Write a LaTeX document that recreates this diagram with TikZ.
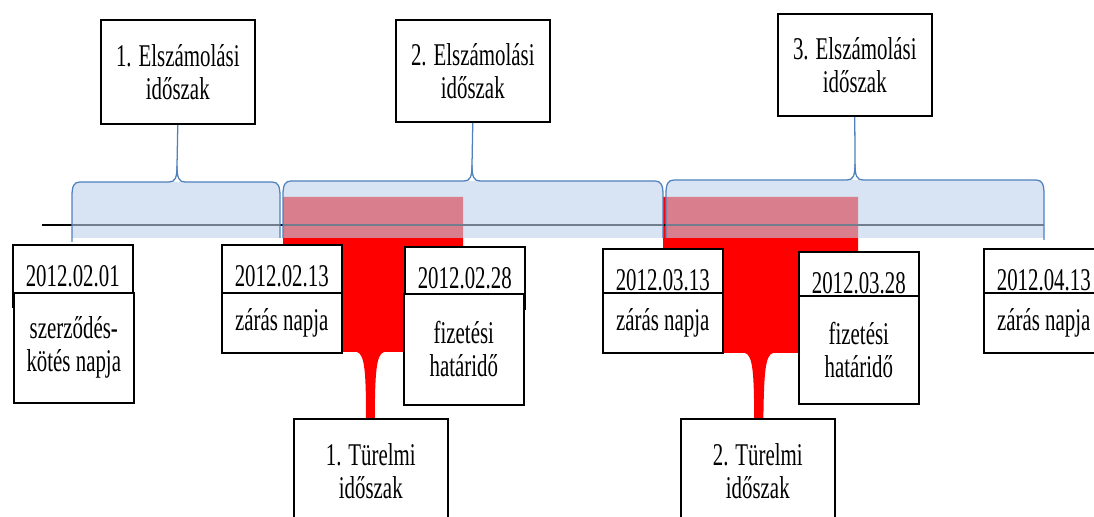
\documentclass[tikz,border=0pt]{standalone}
\usepackage{fontspec}
\setmainfont{Liberation Serif}[FakeStretch=0.66]
\usetikzlibrary{positioning}
\pgfdeclarelayer{background}
\pgfsetlayers{background,main}
\definecolor{bandblue}{RGB}{190,210,235}
\definecolor{braceblue}{RGB}{79,129,189}

\begin{document}
\begin{tikzpicture}[x=0.025cm, y=-0.025cm,
        every node/.style={align=center, font=\fontsize{22.5}{23.5}\selectfont},
        box/.style={draw, line width=1.1pt, fill=white, anchor=north west, inner sep=0pt},
        period/.style={box, minimum width=3.85cm, minimum height=2.6cm},
        datebox/.style={box, minimum width=3cm, minimum height=1.55cm},
        notebox/.style={box, minimum width=3cm, minimum height=#1},
        band/.style={fill=bandblue, fill opacity=0.6},
        bracket/.style={draw=braceblue, line width=0.9pt},
        grace/.style={fill=red},
    ]
    \useasboundingbox (0,0) rectangle (1094,517);
    \node[period] (elsz1) at (100,19) {1. Elszámolási\\időszak};
    \node[period, minimum height=2.55cm] (elsz2) at (395,19) {2. Elszámolási\\időszak};
    \node[period, minimum height=2.55cm] (elsz3) at (777,13) {3. Elszámolási\\időszak};
    \node[period] (turelmi1) at (293,418) {1. Türelmi\\időszak};
    \node[period] (turelmi2) at (680,418) {2. Türelmi\\időszak};

    \node[datebox] (datum1) at (12,244) {2012.02.01};
    \node[notebox=2.75cm] (nap1) at (13,292) {szerződés-\\kötés napja};
    \node[datebox] (datum2) at (221,244) {2012.02.13};
    \node[notebox=1.5cm] (nap2) at (221,292) {zárás napja};
    \node[datebox] (datum3) at (404,246) {2012.02.28};
    \node[notebox=2.78cm] (nap3) at (403,293) {fizetési\\határidő};
    \node[datebox] (datum4) at (602,248) {2012.03.13};
    \node[notebox=1.5cm] (nap4) at (602,292) {zárás napja};
    \node[datebox] (datum5) at (798,251) {2012.03.28};
    \node[notebox=2.7cm] (nap5) at (798,295) {fizetési\\határidő};
    \node[datebox] (datum6) at (983,248) {2012.04.13};
    \node[notebox=1.5cm] (nap6) at (983,292) {zárás napja};

    \begin{pgfonlayer}{background}
    \fill[grace] (283,197) -- (463,197) -- (463,352) -- (384,352)
        .. controls (376,354) and (375,375) .. ([xshift=0.1cm]turelmi1.north)
        -- ([xshift=-0.12cm]turelmi1.north)
        .. controls (366,375) and (365,354) .. (357,352) -- (283,352) -- cycle;
    \fill[grace] (663,197) -- (858,197) -- (858,353) -- (773,353)
        .. controls (765,355) and (764,375) .. ([xshift=0.14cm]turelmi2.north)
        -- ([xshift=-0.09cm]turelmi2.north)
        .. controls (754,375) and (753,355) .. (745,353) -- (663,353) -- cycle;
    \draw[line width=1pt] (42,225) -- (1044,225);
    \fill[band] (72,238) -- (72,196) .. controls (72,186) and (74,182) .. (80,182)
        -- (272,182) .. controls (278,182) and (280,186) .. (280,196) -- (280,238) -- cycle;
    \fill[band] (283,238) -- (283,195) .. controls (283,185) and (285,181) .. (291,181)
        -- (655,181) .. controls (661,181) and (663,185) .. (663,195) -- (663,238) -- cycle;
    \fill[band] (666,238) -- (666,194) .. controls (666,184) and (668,180) .. (674,180)
        -- (1036,180) .. controls (1042,180) and (1044,184) .. (1044,194) -- (1044,238) -- cycle;
    \draw[bracket] (72,242) -- (72,196) .. controls (72,186) and (74,182) .. (80,182)
        -- (169,182) .. controls (175,182) and (177,178) .. (177,166) -- (elsz1.south);
    \draw[bracket] (177,166) .. controls (177,178) and (179,182) .. (185,182)
        -- (272,182) .. controls (278,182) and (280,186) .. (280,196) -- (280,238);
    \draw[bracket] (283,238) -- (283,195) .. controls (283,185) and (285,181) .. (291,181)
        -- (464,181) .. controls (470,181) and (472,177) .. (472,165) -- (elsz2.south);
    \draw[bracket] (472,165) .. controls (472,177) and (474,181) .. (480,181)
        -- (655,181) .. controls (661,181) and (663,185) .. (663,195) -- (663,238);
    \draw[bracket] (666,238) -- (666,194) .. controls (666,184) and (668,180) .. (674,180)
        -- (847,180) .. controls (853,180) and (855,176) .. (855,164) -- (elsz3.south);
    \draw[bracket] (855,164) .. controls (855,176) and (857,180) .. (863,180)
        -- (1036,180) .. controls (1042,180) and (1044,184) .. (1044,194) -- (1044,240);
    \end{pgfonlayer}
\end{tikzpicture}
\end{document}
